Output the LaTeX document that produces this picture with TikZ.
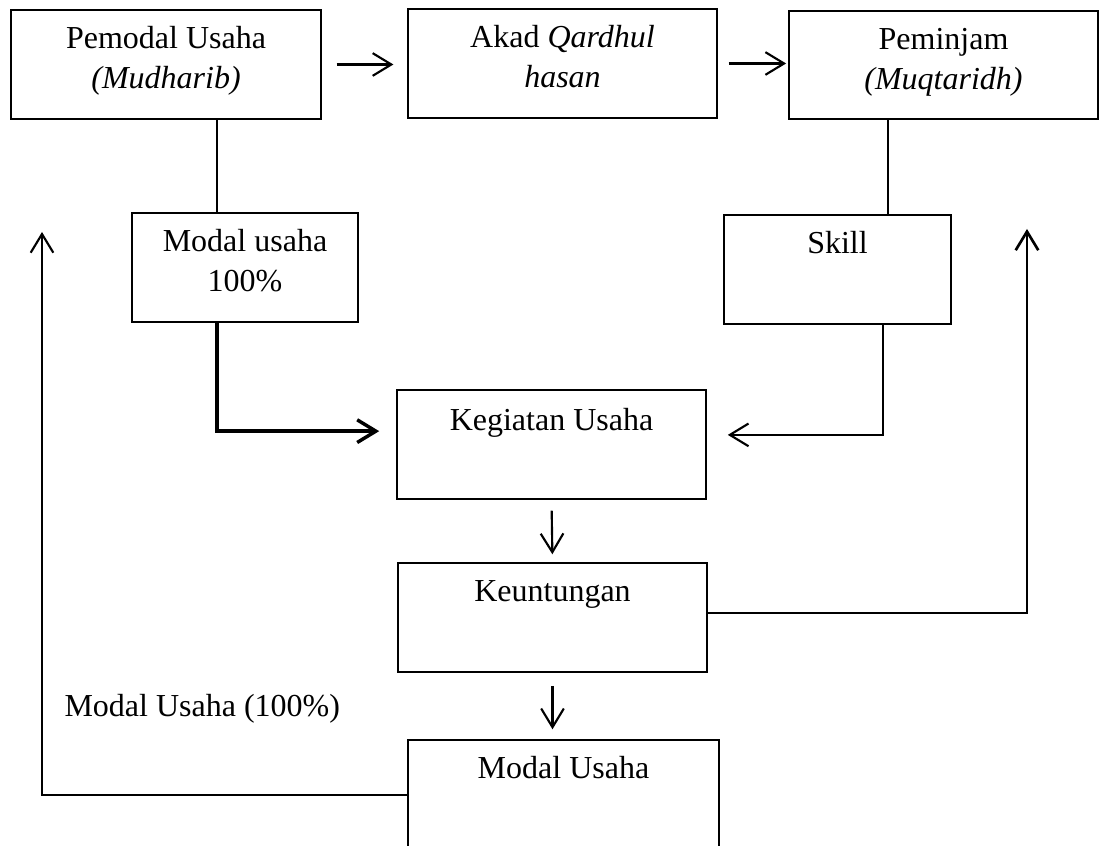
\documentclass[tikz,border=0pt]{standalone}
\usepackage{fontspec}
\setmainfont{Liberation Serif}
\usetikzlibrary{arrows.meta,positioning}

\begin{document}
\begin{tikzpicture}[x=0.375pt,y=-0.375pt,>={Straight Barb[length=7pt,width=8.5pt]},
    font=\fontsize{12}{15}\selectfont,
    kotak/.style 2 args={draw,line width=0.55pt,inner sep=0pt,minimum width=#1*0.375pt,minimum height=#2*0.375pt},
    isi/.style={align=center,inner sep=0pt},
    garis/.style={line width=0.75pt},
    panah/.style={->,line width=0.8pt}]
    \useasboundingbox (0,0) rectangle (1105,846);
    \clip (0,0) rectangle (1105,846);
    \node[kotak={310}{109}] (pemodal) at (166,64.5) {};
    \node[kotak={309}{109}] (akad) at (562.5,63.5) {};
    \node[kotak={309}{108}] (peminjam) at (943.5,65) {};
    \node[kotak={226}{109}] (modal) at (245,267.5) {};
    \node[kotak={227}{109}] (skill) at (837.5,269.5) {};
    \node[kotak={309}{109}] (kegiatan) at (551.5,444.5) {};
    \node[kotak={309}{109}] (untung) at (552.5,617.5) {};
    \node[kotak={311}{110}] (modalusaha) at (563.5,795) {};
    \node[isi,below=4.2pt of pemodal.north] (pemodal-t) {\strut Pemodal Usaha\\\textit{(Mudharib)}};
    \node[isi,below=4.2pt of akad.north] (akad-t) {\strut Akad \textit{Qardhul}\\\textit{hasan}};
    \node[isi,below=4.2pt of peminjam.north] (peminjam-t) {\strut Peminjam\\\textit{(Muqtaridh)}};
    \node[isi,below=4.2pt of modal.north] (modal-t) {\strut Modal usaha\\100\%};
    \node[isi,below=4.2pt of skill.north] (skill-t) {\strut Skill};
    \node[isi,below=4.6pt of kegiatan.north] (kegiatan-t) {\strut Kegiatan Usaha};
    \node[isi,below=4.2pt of untung.north] (untung-t) {\strut Keuntungan};
    \node[isi,below=4.2pt of modalusaha.north] (modalusaha-t) {\strut Modal Usaha};
    \node[isi,anchor=base west] (kembali) at (64,717) {Modal Usaha (100\%)};
    \coordinate (kanan) at (1027,229);
    \coordinate (kiri) at (42,232);
    \draw[panah,shorten <=5.6pt,shorten >=5.2pt] (pemodal.east) -- (pemodal.east -| akad.west);
    \draw[panah,shorten <=4.1pt,shorten >=0.8pt] (akad.east) -- (peminjam.west |- akad.east);
    \draw[garis] ([xshift=-10.5pt]modal.north) -- ([xshift=-10.5pt]modal.north |- pemodal.south);
    \draw[garis] ([xshift=18.9pt]skill.north) -- ([xshift=18.9pt]skill.north |- peminjam.south);
    \draw[panah,line width=1.3pt,shorten >=6.4pt] ([xshift=-10.5pt]modal.south) |- ([yshift=5pt]kegiatan.west);
    \draw[panah,shorten >=7.9pt] ([xshift=16.9pt]skill.south) |- ([yshift=3.6pt]kegiatan.east);
    \draw[panah,shorten <=4.1pt,shorten >=3pt] (kegiatan.south) -- (untung.north);
    \draw[panah,shorten <=4.9pt,shorten >=3.75pt] (untung.south) -- (untung.south |- modalusaha.north);
    \draw[panah,line width=1pt] ([yshift=1.7pt]untung.east) -| (kanan);
    \draw[panah] (modalusaha.west) -| (kiri);
\end{tikzpicture}
\end{document}
